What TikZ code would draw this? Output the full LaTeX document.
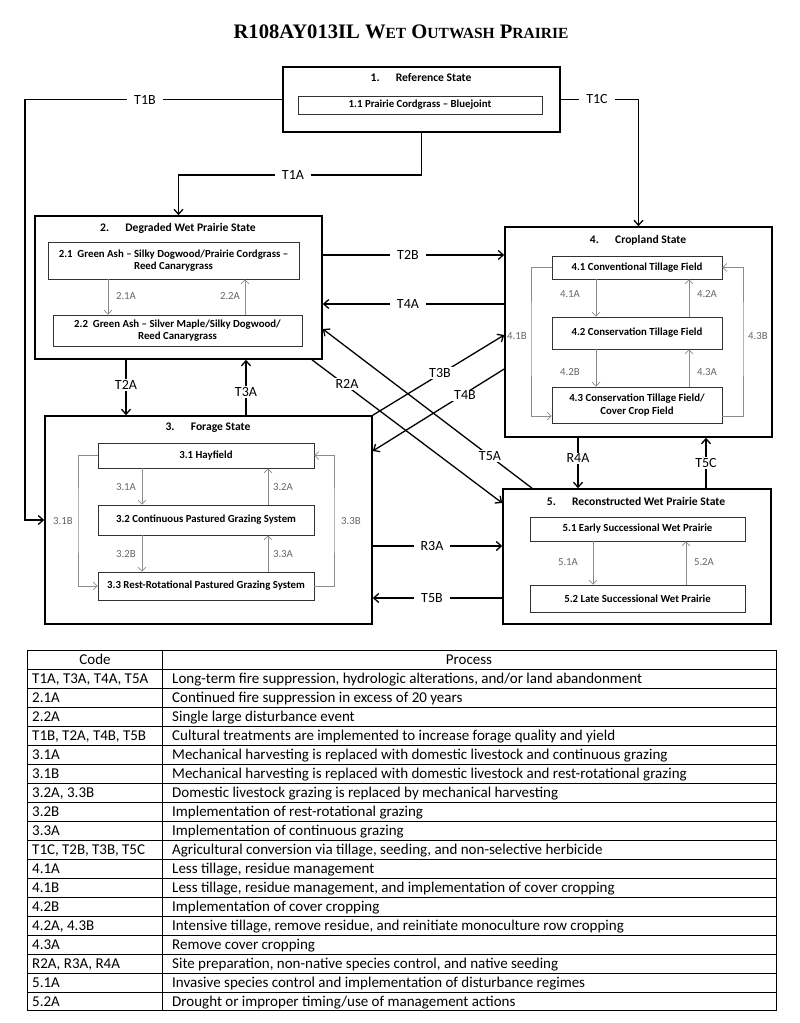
\documentclass[tikz,border=0pt]{standalone}
\usepackage{fontspec}
\setmainfont{Carlito}
\newfontfamily\titlefont{Liberation Serif}
\usetikzlibrary{arrows.meta}
\newcommand{\tsc}[1]{{\fontsize{15.5}{16}\selectfont #1}}
\newcommand{\tabfont}{\fontsize{15}{17}\selectfont}
\tikzset{
  state/.style={draw, line width=1.6pt, inner sep=0pt},
  phase/.style={draw=black!80, line width=0.9pt, inner sep=0pt, align=center,
    font=\bfseries\fontsize{10.8}{12.5}\selectfont},
  statetitle/.style={font=\bfseries\fontsize{11.6}{13}\selectfont},
  trans/.style={line width=1.3pt, -{Straight Barb[length=5pt,width=9pt]}},
  tlabel/.style={fill=white, inner xsep=7pt, inner ysep=1pt, font=\fontsize{14}{16}\selectfont},
  pathway/.style={draw=black!45, line width=0.7pt, -{Straight Barb[length=4pt,width=8pt]}},
  plabel/.style={text=black!60, font=\fontsize{10.8}{12}\selectfont},
  tabline/.style={line width=0.8pt},
}

\begin{document}
\begin{tikzpicture}[x=1pt, y=-1pt]
\useasboundingbox (0,0) rectangle (800,1023);
\node[font=\titlefont\bfseries\fontsize{20.6}{23}\selectfont] (title) at (401,32)
  {R108AY013IL W\tsc{ET} O\tsc{UTWASH} P\tsc{RAIRIE}};

% States {{{
\node[state, minimum width=277pt, minimum height=65pt] (s1) at (421.5,99.5) {};
\node[statetitle] (s1t) at (421,78) {1.\hspace{1.4em}Reference State};
\node[phase, minimum width=244pt, minimum height=18pt] (p11) at (420,105) {1.1 Prairie Cordgrass – Bluejoint};

\node[state, minimum width=287pt, minimum height=143pt] (s2) at (178.5,287.5) {};
\node[statetitle] (s2t) at (178,228) {2.\hspace{1.4em}Degraded Wet Prairie State};
\node[phase, minimum width=251pt, minimum height=37pt] (p21) at (173.5,260.5)
  {2.1\ \ Green Ash – Silky Dogwood/Prairie Cordgrass –\\Reed Canarygrass};
\node[phase, minimum width=249pt, minimum height=31pt] (p22) at (177.5,330.5)
  {2.2\ \ Green Ash – Silver Maple/Silky Dogwood/\\Reed Canarygrass};

\node[state, minimum width=327pt, minimum height=208pt] (s3) at (208.5,520) {};
\node[statetitle] (s3t) at (208,428) {3.\hspace{1.4em}Forage State};
\node[phase, minimum width=216pt, minimum height=25pt] (p31) at (206,455.5) {3.1 Hayfield};
\node[phase, minimum width=216pt, minimum height=30pt] (p32) at (206,520) {3.2 Continuous Pastured Grazing System};
\node[phase, minimum width=216pt, minimum height=28pt] (p33) at (206,586) {3.3 Rest-Rotational Pastured Grazing System};

\node[state, minimum width=267pt, minimum height=210pt] (s4) at (638.5,332) {};
\node[statetitle] (s4t) at (638,240) {4.\hspace{1.4em}Cropland State};
\node[phase, minimum width=170pt, minimum height=23pt] (p41) at (637,267.5) {4.1 Conventional Tillage Field};
\node[phase, minimum width=170pt, minimum height=32pt] (p42) at (637,333) {4.2 Conservation Tillage Field};
\node[phase, minimum width=170pt, minimum height=36pt] (p43) at (637,405) {4.3 Conservation Tillage Field/\\Cover Crop Field};

\node[state, minimum width=268pt, minimum height=135pt] (s5) at (637,556.5) {};
\node[statetitle] (s5t) at (636,501) {5.\hspace{1.4em}Reconstructed Wet Prairie State};
\node[phase, minimum width=215pt, minimum height=24pt] (p51) at (637.5,529) {5.1 Early Successional Wet Prairie};
\node[phase, minimum width=215pt, minimum height=27pt] (p52) at (637.5,598.5) {5.2 Late Successional Wet Prairie};
% }}}

% Transitions {{{
\coordinate (t1a) at (300,175);
\coordinate (t1b) at (25,520);
\coordinate (yT2B) at (0,255);
\coordinate (yT4A) at (0,304);
\coordinate (xT2A) at (126,0);
\coordinate (xT3A) at (246,0);
\coordinate (xR2A) at (312,0);
\coordinate (yR2A) at (0,503);
\coordinate (xT5A) at (532,0);
\coordinate (yT5A) at (0,329);
\coordinate (yT3B) at (0,335);
\coordinate (yT4B) at (0,369);
\coordinate (yT4Bend) at (0,451);
\coordinate (yR3A) at (0,546);
\coordinate (yT5B) at (0,598);
\coordinate (xR4A) at (578,0);
\coordinate (xT5C) at (706,0);

\draw[trans] (s1.south) |- (t1a) -| (s2.north);
\draw[trans] (s1.west) -| (t1b) |- (s3.west);
\draw[trans] (s1.east) -| (s4.north);
\draw[trans] (s2.east |- yT2B) -- (s4.west |- yT2B);
\draw[trans] (s4.west |- yT4A) -- (s2.east |- yT4A);
\draw[trans] (s2.south -| xT2A) -- (s3.north -| xT2A);
\draw[trans] (s3.north -| xT3A) -- (s2.south -| xT3A);
\draw[trans] (s2.south -| xR2A) -- (s5.west |- yR2A);
\draw[trans] (s5.north -| xT5A) -- (s2.east |- yT5A);
\draw[trans] (s3.north east) -- (s4.west |- yT3B);
\draw[trans] (s4.west |- yT4B) -- (s3.east |- yT4Bend);
\draw[trans] (s3.east |- yR3A) -- (s5.west |- yR3A);
\draw[trans] (s5.west |- yT5B) -- (s3.east |- yT5B);
\draw[trans] (s4.south -| xR4A) -- (s5.north -| xR4A);
\draw[trans] (s5.north -| xT5C) -- (s4.south -| xT5C);

\node[tlabel] (lT1A) at (293,175) {T1A};
\node[tlabel] (lT1B) at (145,99.5) {T1B};
\node[tlabel] (lT1C) at (597,99.5) {T1C};
\node[tlabel] (lT2B) at (408,255) {T2B};
\node[tlabel] (lT4A) at (408,304) {T4A};
\node[tlabel] (lT2A) at (126,385) {T2A};
\node[tlabel] (lT3A) at (246,392) {T3A};
\node[tlabel] (lR2A) at (347,384) {R2A};
\node[tlabel] (lT5A) at (490,456) {T5A};
\node[tlabel] (lT3B) at (440,373) {T3B};
\node[tlabel] (lT4B) at (465,395) {T4B};
\node[tlabel] (lR3A) at (432,546) {R3A};
\node[tlabel] (lT5B) at (432,598) {T5B};
\node[tlabel] (lR4A) at (578,458) {R4A};
\node[tlabel] (lT5C) at (706,463) {T5C};
% }}}

% Community pathways {{{
\foreach \a/\b/\dl/\dr in {p21/p22/-65.5/71.5, p31/p32/-64/62, p32/p33/-64/62,
    p41/p42/-41/52, p42/p43/-41/52, p51/p52/-44.5/48.5} {
  \draw[pathway] ([xshift=\dl pt]\a.south) -- ([xshift=\dl pt]\a.south |- \b.north);
  \draw[pathway] ([xshift=\dr pt]\a.south |- \b.north) -- ([xshift=\dr pt]\a.south);
}
\coordinate (b31) at (78,520);
\coordinate (b33) at (334,520);
\coordinate (b41) at (531,336);
\coordinate (b43) at (743,336);
\draw[pathway] (p31.west) -| (b31) |- (p33.west);
\draw[pathway] (p33.east) -| (b33) |- (p31.east);
\draw[pathway] (p41.west) -| (b41) |- ([yshift=-11pt]p43.west);
\draw[pathway] ([yshift=-11pt]p43.east) -| (b43) |- (p41.east);

\node[plabel] (l21A) at (126,296) {2.1A};
\node[plabel] (l22A) at (230,296) {2.2A};
\node[plabel] (l31A) at (126,487) {3.1A};
\node[plabel] (l32A) at (283,487) {3.2A};
\node[plabel] (l32B) at (126,554) {3.2B};
\node[plabel] (l33A) at (283,554) {3.3A};
\node[plabel] (l31B) at (63,521) {3.1B};
\node[plabel] (l33B) at (351,521) {3.3B};
\node[plabel] (l41A) at (570,294) {4.1A};
\node[plabel] (l42A) at (707,294) {4.2A};
\node[plabel] (l42B) at (570,372) {4.2B};
\node[plabel] (l43A) at (707,372) {4.3A};
\node[plabel] (l41B) at (517,336) {4.1B};
\node[plabel] (l43B) at (758,336) {4.3B};
\node[plabel] (l51A) at (568,562) {5.1A};
\node[plabel] (l52A) at (704,562) {5.2A};
% }}}

% Legend table {{{
\draw[tabline] (27,650) rectangle (776,1010);
\draw[tabline] (162,650) -- (162,1010);
\foreach \k in {1,...,18} \draw[tabline] (27,{650+19*\k}) -- (776,{650+19*\k});
\node[font=\tabfont] (hcode) at (95,659.5) {Code};
\node[font=\tabfont] (hproc) at (469,659.5) {Process};
\foreach \c/\p [count=\i] in {
    {T1A, T3A, T4A, T5A}/{Long-term fire suppression, hydrologic alterations, and/or land abandonment},
    {2.1A}/{Continued fire suppression in excess of 20 years},
    {2.2A}/{Single large disturbance event},
    {T1B, T2A, T4B, T5B}/{Cultural treatments are implemented to increase forage quality and yield},
    {3.1A}/{Mechanical harvesting is replaced with domestic livestock and continuous grazing},
    {3.1B}/{Mechanical harvesting is replaced with domestic livestock and rest-rotational grazing},
    {3.2A, 3.3B}/{Domestic livestock grazing is replaced by mechanical harvesting},
    {3.2B}/{Implementation of rest-rotational grazing},
    {3.3A}/{Implementation of continuous grazing},
    {T1C, T2B, T3B, T5C}/{Agricultural conversion via tillage, seeding, and non-selective herbicide},
    {4.1A}/{Less tillage, residue management},
    {4.1B}/{Less tillage, residue management, and implementation of cover cropping},
    {4.2B}/{Implementation of cover cropping},
    {4.2A, 4.3B}/{Intensive tillage, remove residue, and reinitiate monoculture row cropping},
    {4.3A}/{Remove cover cropping},
    {R2A, R3A, R4A}/{Site preparation, non-native species control, and native seeding},
    {5.1A}/{Invasive species control and implementation of disturbance regimes},
    {5.2A}/{Drought or improper timing/use of management actions}} {
  \node[anchor=base west, inner sep=0pt, font=\tabfont] (code\i) at (32,{664.5+19*\i}) {\c};
  \node[anchor=base west, inner sep=0pt, font=\tabfont] (proc\i) at (172,{664.5+19*\i}) {\p};
}
% }}}
\end{tikzpicture}
\end{document}
